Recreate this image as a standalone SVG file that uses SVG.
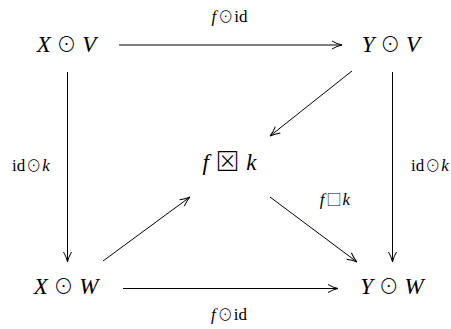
<svg xmlns="http://www.w3.org/2000/svg" width="451" height="329" viewBox="0 0 451 329">
<style>
.n{font-family:"Liberation Serif","DejaVu Serif",serif;font-size:23px;fill:#000}
.l{font-family:"Liberation Serif","DejaVu Serif",serif;font-size:17px;fill:#000}
.i{font-style:italic}
.s{font-family:"Noto Sans CJK JP","DejaVu Sans",sans-serif;font-style:normal;font-weight:300;font-size:20px}
.t{font-family:"Noto Sans CJK JP","DejaVu Sans",sans-serif;font-style:normal;font-weight:300;font-size:15px}
.e{stroke:#000;stroke-width:1;fill:none}
</style>
<defs>
<marker id="a" viewBox="0 0 12 10" refX="11" refY="5" markerWidth="12" markerHeight="10" markerUnits="userSpaceOnUse" orient="auto">
<path d="M1,1 Q6,4 11,5 Q6,6 1,9" fill="none" stroke="#000" stroke-width="1"/>
</marker>
</defs>
<g id="n1"><text class="n" x="66.5" y="52" text-anchor="middle"><tspan class="i">X</tspan> <tspan class="s">⊙</tspan> <tspan class="i">V</tspan></text></g>
<g id="n2"><text class="n" x="391" y="52" text-anchor="middle"><tspan class="i">Y</tspan> <tspan class="s">⊙</tspan> <tspan class="i">V</tspan></text></g>
<g id="n3"><text class="n" x="229.5" y="170" text-anchor="middle"><tspan class="i">f</tspan> <tspan class="s" style="font-size:24px" dx="1">⊠</tspan> <tspan class="i" dx="1">k</tspan></text></g>
<g id="n4"><text class="n" x="66" y="294" text-anchor="middle"><tspan class="i">X</tspan> <tspan class="s">⊙</tspan> <tspan class="i">W</tspan></text></g>
<g id="n5"><text class="n" x="392" y="294" text-anchor="middle"><tspan class="i">Y</tspan> <tspan class="s">⊙</tspan> <tspan class="i">W</tspan></text></g>
<g id="edges">
<line class="e" x1="119" y1="45" x2="342" y2="45" marker-end="url(#a)"/>
<line class="e" x1="67.5" y1="72" x2="67.5" y2="262" marker-end="url(#a)"/>
<line class="e" x1="392.5" y1="72" x2="392.5" y2="262" marker-end="url(#a)"/>
<line class="e" x1="352" y1="71" x2="270" y2="136" marker-end="url(#a)"/>
<line class="e" x1="103" y1="261" x2="190" y2="197" marker-end="url(#a)"/>
<line class="e" x1="270" y1="197" x2="357" y2="262" marker-end="url(#a)"/>
<line class="e" x1="123" y1="288.5" x2="338" y2="288.5" marker-end="url(#a)"/>
<text class="l" x="229.5" y="22" text-anchor="middle"><tspan class="i">f</tspan><tspan class="t" dx="2">⊙</tspan><tspan dx="1">id</tspan></text>
<text class="l" x="31" y="171" text-anchor="middle">id<tspan class="t" dx="1">⊙</tspan><tspan class="i" dx="1">k</tspan></text>
<text class="l" x="430" y="171" text-anchor="middle">id<tspan class="t" dx="1">⊙</tspan><tspan class="i" dx="1">k</tspan></text>
<text class="l" x="335" y="205" text-anchor="middle"><tspan class="i">f</tspan><tspan class="t" dx="2">□</tspan><tspan class="i" dx="1">k</tspan></text>
<text class="l" x="229" y="320" text-anchor="middle"><tspan class="i">f</tspan><tspan class="t" dx="2">⊙</tspan><tspan dx="1">id</tspan></text>
</g>
</svg>
